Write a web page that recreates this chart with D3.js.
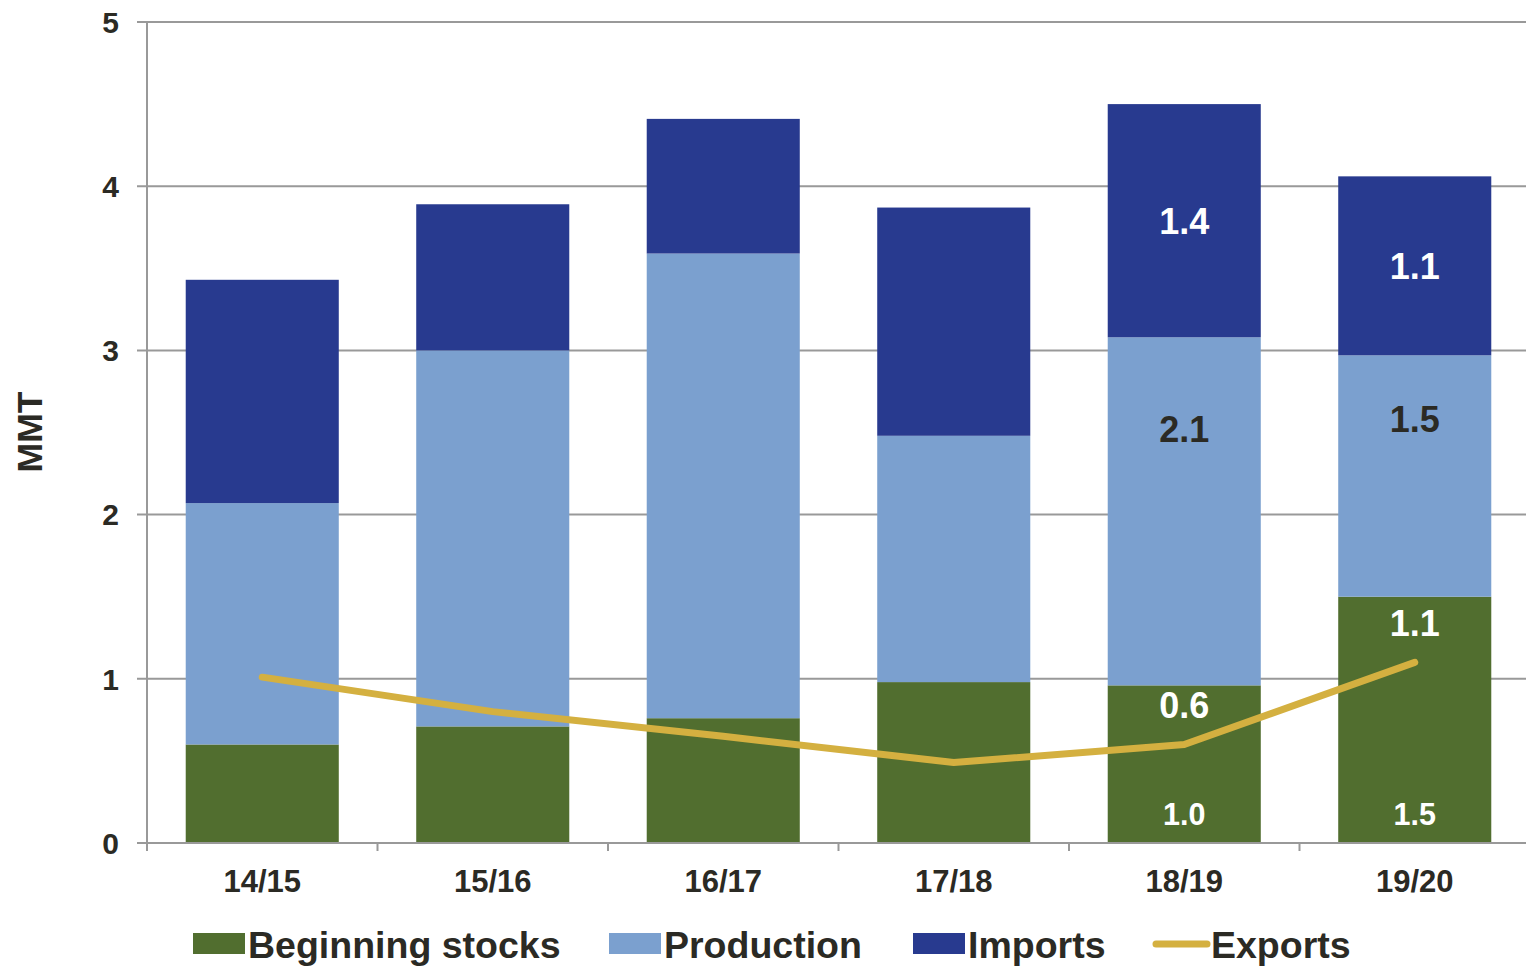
<!DOCTYPE html>
<html>
<head>
<meta charset="utf-8">
<script src="https://cdn.jsdelivr.net/npm/d3@7"></script>
<style>
  html, body { margin: 0; padding: 0; background: #fff; }
  svg { display: block; font-family: "Liberation Sans", Arial, sans-serif; font-weight: bold; }
</style>
</head>
<body>
<svg id="chart" width="1526" height="966"></svg>
<script>
// Marketing years and supply/demand components (million metric tons)
const categories = ["14/15", "15/16", "16/17", "17/18", "18/19", "19/20"];
const beginningStocks = [0.60, 0.71, 0.76, 0.98, 0.96, 1.50];
const production = [1.47, 2.29, 2.83, 1.50, 2.12, 1.47];
const imports = [1.36, 0.89, 0.82, 1.39, 1.42, 1.09];
const exportVolumes = [1.01, 0.80, 0.65, 0.49, 0.60, 1.10];
const yTicks = [0, 1, 2, 3, 4, 5];
const labeledYears = ["18/19", "19/20"];

const seriesNames = ["Beginning stocks", "Production", "Imports"];
const colors = {
  "Beginning stocks": "#516e2f",
  "Production": "#7ba0cf",
  "Imports": "#283a8f",
  "Exports": "#d4b040"
};
const textColor = "#2b2a24";
const gridColor = "#999999";

const svg = d3.select("#chart");
const plotLeft = 147, plotTop = 22, plotBottom = 843, plotRight = 1526;

const x = d3.scaleBand()
  .domain(categories)
  .range([plotLeft, 1530])
  .paddingInner(0.336)
  .paddingOuter(0.168);

const y = d3.scaleLinear().domain([0, 5]).range([plotBottom, plotTop]);

// Horizontal gridlines
svg.append("g")
  .selectAll("line")
  .data(yTicks)
  .join("line")
  .attr("x1", plotLeft - 10)
  .attr("x2", plotRight)
  .attr("y1", d => y(d))
  .attr("y2", d => y(d))
  .attr("stroke", gridColor)
  .attr("stroke-width", 2);

// Stacked bars
const table = categories.map((c, i) => ({
  year: c,
  "Beginning stocks": beginningStocks[i],
  "Production": production[i],
  "Imports": imports[i]
}));
const stacked = d3.stack().keys(seriesNames)(table);

svg.append("g")
  .selectAll("g")
  .data(stacked)
  .join("g")
  .attr("fill", s => colors[s.key])
  .selectAll("rect")
  .data(s => s)
  .join("rect")
  .attr("x", d => x(d.data.year))
  .attr("width", x.bandwidth())
  .attr("y", d => y(d[1]))
  .attr("height", d => y(d[0]) - y(d[1]));

// Axis lines and tick marks
const axis = svg.append("g").attr("stroke", gridColor).attr("stroke-width", 2);
axis.append("line").attr("x1", plotLeft).attr("x2", plotLeft).attr("y1", plotTop).attr("y2", plotBottom + 8);
axis.append("line").attr("x1", plotLeft).attr("x2", plotRight).attr("y1", plotBottom).attr("y2", plotBottom);
const boundaries = categories.map(c => x(c) - x.step() * x.paddingInner() / 2);
axis.selectAll("line.xt")
  .data(boundaries)
  .join("line")
  .attr("class", "xt")
  .attr("x1", d => d).attr("x2", d => d)
  .attr("y1", plotBottom).attr("y2", plotBottom + 8);

// Y tick labels
svg.append("g")
  .selectAll("text")
  .data(yTicks)
  .join("text")
  .attr("x", 119)
  .attr("y", d => y(d))
  .attr("dy", "0.36em")
  .attr("text-anchor", "end")
  .attr("fill", textColor)
  .attr("font-size", 30)
  .text(d => d);

// X tick labels
svg.append("g")
  .selectAll("text")
  .data(categories)
  .join("text")
  .attr("x", d => x(d) + x.bandwidth() / 2)
  .attr("y", 892)
  .attr("text-anchor", "middle")
  .attr("fill", textColor)
  .attr("font-size", 31)
  .text(d => d);

// Y axis title
svg.append("text")
  .attr("transform", "translate(42,432) rotate(-90)")
  .attr("text-anchor", "middle")
  .attr("fill", textColor)
  .attr("font-size", 35.5)
  .text("MMT");

// Exports line
const line = d3.line()
  .x((d, i) => x(categories[i]) + x.bandwidth() / 2)
  .y(d => y(d));
svg.append("path")
  .datum(exportVolumes)
  .attr("d", line)
  .attr("fill", "none")
  .attr("stroke", colors["Exports"])
  .attr("stroke-width", 7)
  .attr("stroke-linecap", "round")
  .attr("stroke-linejoin", "round");

// Value labels for the most recent years
const fmt = d3.format(".1f");
const labelLayer = svg.append("g").attr("text-anchor", "middle");
labeledYears.forEach(yr => {
  const i = categories.indexOf(yr);
  const cx = x(yr) + x.bandwidth() / 2;
  const bs = beginningStocks[i], pr = production[i], im = imports[i];
  const prTop = y(bs + pr), prBase = y(bs);
  // imports: centred in its segment
  labelLayer.append("text")
    .attr("x", cx).attr("y", (y(bs + pr + im) + prTop) / 2).attr("dy", "0.36em")
    .attr("fill", "#ffffff").attr("font-size", 36).text(fmt(im));
  // production: upper part of its segment
  labelLayer.append("text")
    .attr("x", cx).attr("y", prTop + (prBase - prTop) * 0.265).attr("dy", "0.36em")
    .attr("fill", textColor).attr("font-size", 36).text(fmt(pr));
  // exports: just above the line point
  labelLayer.append("text")
    .attr("x", cx).attr("y", y(exportVolumes[i]) - 39).attr("dy", "0.36em")
    .attr("fill", "#ffffff").attr("font-size", 36).text(fmt(exportVolumes[i]));
  // beginning stocks: near the base of the bar
  labelLayer.append("text")
    .attr("x", cx).attr("y", plotBottom - 29).attr("dy", "0.36em")
    .attr("fill", "#ffffff").attr("font-size", 30.5).text(fmt(bs));
});

// Legend
const legendItems = [
  { name: "Beginning stocks", type: "rect", x: 193 },
  { name: "Production", type: "rect", x: 609 },
  { name: "Imports", type: "rect", x: 913 },
  { name: "Exports", type: "line", x: 1153 }
];
const legend = svg.append("g");
legendItems.forEach(it => {
  const g = legend.append("g");
  if (it.type === "rect") {
    g.append("rect").attr("x", it.x).attr("y", 933).attr("width", 52).attr("height", 21)
      .attr("fill", colors[it.name]);
  } else {
    g.append("line").attr("x1", it.x + 3).attr("x2", it.x + 54).attr("y1", 944).attr("y2", 944)
      .attr("stroke", colors[it.name]).attr("stroke-width", 7).attr("stroke-linecap", "round");
  }
  g.append("text")
    .attr("x", it.x + (it.type === "rect" ? 55 : 58))
    .attr("y", 944).attr("dy", "0.36em")
    .attr("fill", textColor).attr("font-size", 37.5)
    .text(it.name);
});
</script>
</body>
</html>
